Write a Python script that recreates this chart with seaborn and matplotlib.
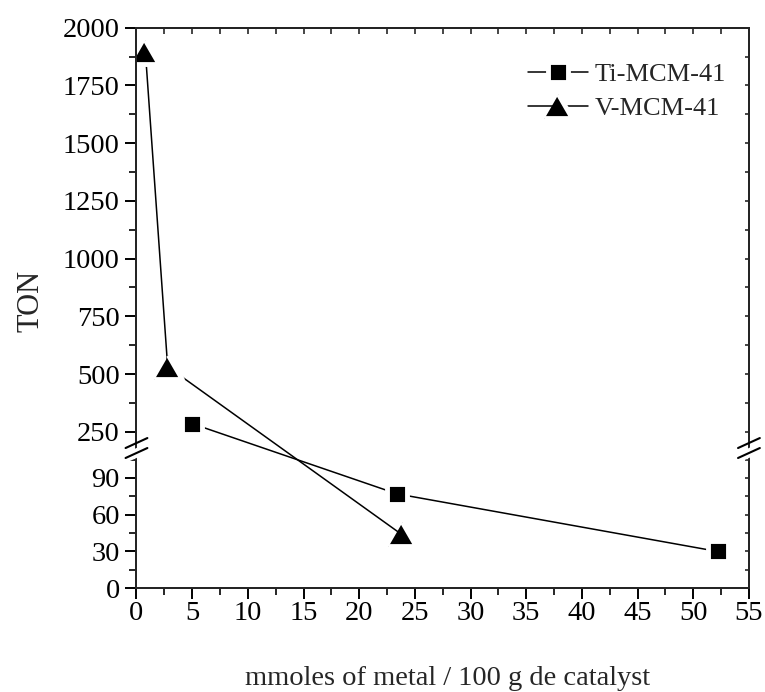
import numpy as np
import matplotlib
matplotlib.use("Agg")
import matplotlib.pyplot as plt
import seaborn as sns
from matplotlib.ticker import FixedLocator, FormatStrFormatter
from matplotlib.lines import Line2D
from matplotlib.patches import Polygon

sns.set_style("ticks")
plt.rcParams["font.family"] = ["Liberation Serif", "DejaVu Serif"]

# data
ti_x = [5.0, 23.4, 52.2]
ti_ton = [285, 77, 30]
v_x = [0.8, 2.8, 23.8]
v_ton = [1895, 532, 44]

y_major = [0, 30, 60, 90, 250, 500, 750, 1000, 1250, 1500, 1750, 2000]
y_minor = [15, 45, 75, 105, 375, 625, 875, 1125, 1375, 1625, 1875]
x_major = list(range(0, 56, 5))
x_minor = [2.5 + 5 * i for i in range(11)]

# broken y axis: piecewise linear scale (px per unit in each part)
B_LO, B_HI = 114.4, 179.4
K_LO, K_HI = 1.226, 0.2309
P = B_LO * K_LO


def fwd(y):
    y = np.asarray(y, float)
    return np.where(y <= B_LO, y * K_LO,
                    np.where(y >= B_HI, P + (y - B_HI) * K_HI, P))


def inv(t):
    t = np.asarray(t, float)
    return np.where(t <= P, t / K_LO, B_HI + (t - P) / K_HI)


fig = plt.figure(figsize=(7.65, 6.92), dpi=100)
ax = fig.add_axes([0.1784, 0.1499, 0.8006, 0.8101])
ax.set_yscale("function", functions=(fwd, inv))

tri = [(-1, -0.866), (1, -0.866), (0, 0.866)]
sns.lineplot(x=ti_x, y=ti_ton, ax=ax, color="black", lw=1.1, marker="s",
             markersize=14, mec="white", mew=3.5, label="Ti-MCM-41")
sns.lineplot(x=v_x, y=v_ton, ax=ax, color="black", lw=1.1, marker=tri,
             markersize=20, mec="white", mew=3.5, label="V-MCM-41")

ax.set_xlim(0, 55)
ax.set_ylim(0, 2000)
ax.xaxis.set_major_locator(FixedLocator(x_major))
ax.xaxis.set_minor_locator(FixedLocator(x_minor))
ax.yaxis.set_major_locator(FixedLocator(y_major))
ax.yaxis.set_minor_locator(FixedLocator(y_minor))
ax.yaxis.set_major_formatter(FormatStrFormatter("%d"))
ax.xaxis.set_major_formatter(FormatStrFormatter("%d"))
ax.yaxis.set_minor_formatter(plt.NullFormatter())

for s in ax.spines.values():
    s.set_linewidth(1.4)
    s.set_color("black")
ax.tick_params(which="major", direction="out", length=8, width=1.4,
               labelsize=20.5, colors="black")
ax.tick_params(which="minor", direction="out", length=5, width=1.4)
ax.tick_params(axis="y", pad=4)
ax.tick_params(axis="x", pad=1)

ax.set_xlabel("mmoles of metal / 100 g de catalyst", fontsize=20.5)
ax.set_ylabel("TON", fontsize=22)
ax.xaxis.set_label_coords(0.508, -0.138)
ax.yaxis.set_label_coords(-0.148, 0.512)

# small inward ticks on top and right
top = ax.secondary_xaxis("top")
top.set_xticks(sorted(x_major + x_minor))
top.tick_params(direction="in", length=4, width=1.2, labeltop=False)
top.spines["top"].set_linewidth(1.4)

twin = ax.twinx()
twin.set_yscale("function", functions=(fwd, inv))
twin.set_ylim(0, 2000)
twin.yaxis.set_major_locator(FixedLocator(y_major))
twin.yaxis.set_minor_locator(FixedLocator(y_minor))
twin.tick_params(which="both", direction="in", length=3, width=1.2,
                 labelright=False)
for s in twin.spines.values():
    s.set_linewidth(1.4)

leg = ax.legend(loc="upper right", bbox_to_anchor=(0.963, 0.937),
                frameon=False, fontsize=19, handlelength=2.27,
                handletextpad=0.25, labelspacing=0.38, borderpad=0,
                borderaxespad=0, numpoints=1)

# break marks on both vertical spines
yb = P / float(fwd(2000))
dx, dy, gap = 0.0178, 0.0089, 0.0089
for xs in (0.0, 1.0):
    poly = Polygon([(xs - dx, yb - dy), (xs + dx, yb + dy),
                    (xs + dx, yb + dy - 2 * gap), (xs - dx, yb - dy - 2 * gap)],
                   closed=True, transform=ax.transAxes, facecolor="white",
                   edgecolor="none", clip_on=False, zorder=5)
    fig.add_artist(poly)
    for off in (0, -2 * gap):
        fig.add_artist(Line2D([xs - dx, xs + dx], [yb - dy + off + gap, yb + dy + off + gap],
                              transform=ax.transAxes, color="black", lw=1.5,
                              clip_on=False, zorder=6))

fig.savefig("out.png", dpi=100)
